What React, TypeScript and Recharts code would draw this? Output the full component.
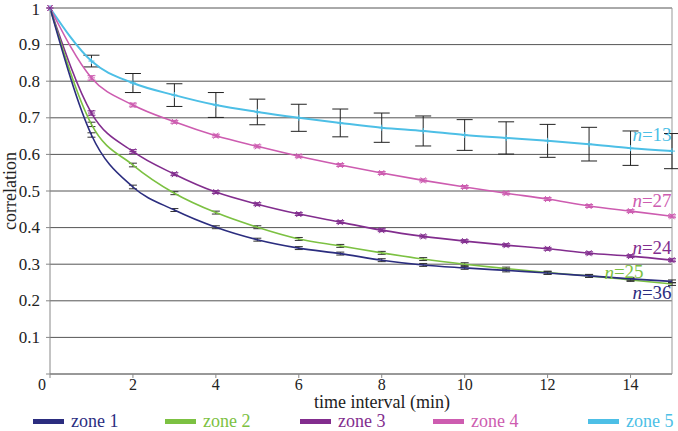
import React from 'react'
import {
  LineChart,
  Line,
  XAxis,
  YAxis,
  CartesianGrid,
  ErrorBar,
  LabelList,
  Legend,
  ReferenceLine
} from 'recharts'

const times = [0, 1, 2, 3, 4, 5, 6, 7, 8, 9, 10, 11, 12, 13, 14, 15];
const zone1 = [1, 0.653, 0.511, 0.448, 0.401, 0.367, 0.344, 0.329, 0.311, 0.298, 0.29, 0.283, 0.276, 0.268, 0.26, 0.253];
const zone2 = [1, 0.682, 0.571, 0.494, 0.441, 0.401, 0.369, 0.35, 0.331, 0.314, 0.3, 0.288, 0.277, 0.268, 0.257, 0.246];
const zone3 = [1, 0.713, 0.608, 0.546, 0.497, 0.464, 0.437, 0.415, 0.393, 0.376, 0.363, 0.352, 0.342, 0.33, 0.322, 0.311];
const zone4 = [1, 0.809, 0.735, 0.689, 0.651, 0.622, 0.595, 0.571, 0.549, 0.529, 0.511, 0.494, 0.478, 0.459, 0.445, 0.431];
const zone5 = [1, 0.855, 0.795, 0.762, 0.735, 0.716, 0.7, 0.686, 0.673, 0.664, 0.653, 0.645, 0.637, 0.628, 0.617, 0.609];
const zone5Err = [0, 0.016, 0.026, 0.031, 0.034, 0.035, 0.037, 0.038, 0.04, 0.041, 0.042, 0.044, 0.045, 0.046, 0.047, 0.048];
const smallErr = [0, 0.006, 0.005, 0.004, 0.004, 0.004, 0.004, 0.004, 0.004, 0.004, 0.004, 0.004, 0.004, 0.004, 0.004, 0.004];
const sampleSizes = [36, 25, 24, 27, 13];
const zoneNames = ['zone 1', 'zone 2', 'zone 3', 'zone 4', 'zone 5'];
const xTicks = [0, 2, 4, 6, 8, 10, 12, 14];
const yTicks = [0, 0.1, 0.2, 0.3, 0.4, 0.5, 0.6, 0.7, 0.8, 0.9, 1];

const colors = ['#2b2d7f', '#7cc142', '#822d8e', '#cd5cb0', '#4dbfe6'];
const FONT = '"Liberation Serif", "Times New Roman", serif';

const data = times.map((t, i) => ({
  t,
  z1: zone1[i],
  z2: zone2[i],
  z3: zone3[i],
  z4: zone4[i],
  z5: zone5[i],
  e5: zone5Err[i],
  es: smallErr[i]
}));

function Asterisk(props: any) {
  const { cx, cy, stroke, index } = props;
  if (cx == null || cy == null) return <g key={`a${index}`} />;
  return (
    <g key={`a${index}`} stroke={stroke} strokeWidth={1}>
      <line x1={cx - 3.5} y1={cy} x2={cx + 3.5} y2={cy} />
      <line x1={cx - 2.5} y1={cy - 3} x2={cx + 2.5} y2={cy + 3} />
      <line x1={cx + 2.5} y1={cy - 3} x2={cx - 2.5} y2={cy + 3} />
    </g>
  );
}

function Plus(props: any) {
  const { cx, cy, stroke, index } = props;
  if (cx == null || cy == null) return <g key={`p${index}`} />;
  return (
    <g key={`p${index}`} stroke={stroke} strokeWidth={1}>
      <line x1={cx - 3} y1={cy} x2={cx + 3} y2={cy} />
      <line x1={cx} y1={cy - 3} x2={cx} y2={cy + 3} />
    </g>
  );
}

// "n=.." note next to the last point of a series
const nLabel = (n: number, color: string, dx: number, dy: number) => (props: any) => {
  const { x, y, index } = props;
  if (index !== times.length - 1) return null;
  return (
    <text x={x + dx} y={y + dy} fill={color} style={{ fontFamily: FONT, fontSize: 19 }} textAnchor="middle" dominantBaseline="central">
      <tspan fontStyle="italic">n</tspan>={n}
    </text>
  );
};

function XTick(props: any) {
  const { x, y, payload } = props;
  const shift = payload.value === 0 ? -8 : 0;
  return (
    <text x={x + shift} y={y + 10} fill="#222" style={{ fontFamily: FONT, fontSize: 16 }} textAnchor="middle">
      {payload.value}
    </text>
  );
}

function YTick(props: any) {
  const { x, y, payload } = props;
  if (payload.value === 0) return null;
  return (
    <text x={x - 4} y={y} fill="#222" style={{ fontFamily: FONT, fontSize: 17 }} textAnchor="end" dominantBaseline="central">
      {String(Math.round(payload.value * 10) / 10)}
    </text>
  );
}

const legendLeft = [33, 165, 300, 433, 588];

function LegendBox() {
  return (
    <div style={{ position: 'relative', width: 678, height: 20 }}>
      {zoneNames.map((name, i) => (
        <div key={name} style={{ position: 'absolute', left: legendLeft[i], top: 0, display: 'flex', alignItems: 'center', height: 20, lineHeight: '20px' }}>
          <span style={{ display: 'inline-block', width: 31, height: 5, background: colors[i], marginRight: 7 }} />
          <span style={{ color: colors[i], fontFamily: FONT, fontSize: 18 }}>{name}</span>
        </div>
      ))}
    </div>
  );
}

export default function App() {
  return (
    <div style={{ position: 'absolute', left: 0, top: 0, width: 678, height: 431, background: '#fff', fontFamily: FONT }}>
      <LineChart width={678} height={431} data={data} margin={{ top: 8, right: 6, left: 0, bottom: 0 }}>
        <CartesianGrid horizontal vertical={false} stroke="#555" strokeWidth={1} />
        <XAxis
          dataKey="t"
          type="number"
          domain={[0, 15]}
          ticks={xTicks}
          height={37}
          tick={<XTick />}
          tickSize={4}
          stroke="#888"
          label={{
            value: 'time interval (min)',
            position: 'insideBottom',
            offset: 0,
            dx: 21,
            dy: -3,
            style: { fontFamily: FONT, fontSize: 18, fill: '#222' }
          }}
        />
        <YAxis
          type="number"
          domain={[0, 1]}
          ticks={yTicks}
          width={50}
          tick={<YTick />}
          tickSize={4}
          stroke="#888"
          label={{
            value: 'correlation',
            angle: -90,
            position: 'insideLeft',
            offset: 10,
            style: { fontFamily: FONT, fontSize: 18, fill: '#222', textAnchor: 'middle' }
          }}
        />
        <ReferenceLine x={15} stroke="#999" strokeWidth={1} />
        <Legend verticalAlign="bottom" height={20} content={<LegendBox />} />

        <Line type="monotone" dataKey="z5" stroke={colors[4]} strokeWidth={2} dot={<Plus />} isAnimationActive={false}>
          <ErrorBar dataKey="e5" width={8} stroke="#222" strokeWidth={1} />
          <LabelList dataKey="z5" content={nLabel(sampleSizes[4], colors[4], -20, -17)} />
        </Line>
        <Line type="monotone" dataKey="z4" stroke={colors[3]} strokeWidth={1.6} dot={<Asterisk />} isAnimationActive={false}>
          <ErrorBar dataKey="es" width={4} stroke={colors[3]} strokeWidth={1} />
          <LabelList dataKey="z4" content={nLabel(sampleSizes[3], colors[3], -20, -16)} />
        </Line>
        <Line type="monotone" dataKey="z3" stroke={colors[2]} strokeWidth={1.6} dot={<Asterisk />} isAnimationActive={false}>
          <ErrorBar dataKey="es" width={4} stroke={colors[2]} strokeWidth={1} />
          <LabelList dataKey="z3" content={nLabel(sampleSizes[2], colors[2], -20, -13)} />
        </Line>
        <Line type="monotone" dataKey="z2" stroke={colors[1]} strokeWidth={1.6} dot={false} isAnimationActive={false}>
          <ErrorBar dataKey="es" width={4} stroke="#333" strokeWidth={1} />
          <LabelList dataKey="z2" content={nLabel(sampleSizes[1], colors[1], -48, -12)} />
        </Line>
        <Line type="monotone" dataKey="z1" stroke={colors[0]} strokeWidth={1.6} dot={false} isAnimationActive={false}>
          <ErrorBar dataKey="es" width={4} stroke="#333" strokeWidth={1} />
          <LabelList dataKey="z1" content={nLabel(sampleSizes[0], colors[0], -20, 11)} />
        </Line>
      </LineChart>
    </div>
  );
}
